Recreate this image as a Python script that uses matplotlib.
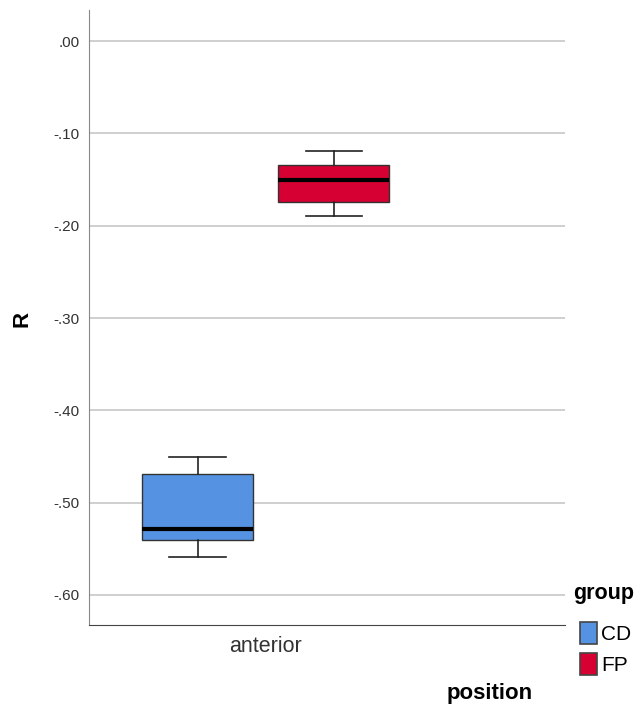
import matplotlib
matplotlib.use("Agg")
import matplotlib.pyplot as plt
from matplotlib.patches import Patch

plt.rcParams['font.family'] = ['Liberation Sans', 'DejaVu Sans']

# data
groups = ["CD", "FP"]
category = "anterior"
whislo = [-0.559, -0.190]
q1 = [-0.540, -0.174]
med = [-0.529, -0.150]
q3 = [-0.469, -0.134]
whishi = [-0.450, -0.119]
colors = ["#5592E2", "#D60032"]
yticks = [0.0, -0.1, -0.2, -0.3, -0.4, -0.5, -0.6]
ytick_labels = [".00", "-.10", "-.20", "-.30", "-.40", "-.50", "-.60"]

fig = plt.figure(figsize=(6.38, 7.08), dpi=100)
ax = fig.add_axes([89/638, 83/708, (565-89)/638, (625-10)/708])

offsets = [-0.387, 0.384]
stats = []
for i in range(2):
    stats.append(dict(whislo=whislo[i], q1=q1[i], med=med[i], q3=q3[i], whishi=whishi[i], fliers=[]))
bp = ax.bxp(stats, positions=offsets, widths=0.627, patch_artist=True, showfliers=False,
            manage_ticks=False,
            boxprops=dict(edgecolor="#333333", linewidth=1.0),
            medianprops=dict(color="black", linewidth=3),
            whiskerprops=dict(color="#222222", linewidth=1.2),
            capprops=dict(color="#222222", linewidth=1.2),
            capwidths=0.32)
for patch, c in zip(bp['boxes'], colors):
    patch.set_facecolor(c)
    patch.set_zorder(3)
for k in ['medians', 'whiskers', 'caps']:
    for l in bp[k]:
        l.set_zorder(4)

ax.set_xlim(-1.0, 299/177)
ax.set_ylim(-0.6325, 0.0336)
ax.set_yticks(yticks)
ax.set_yticklabels(ytick_labels, fontsize=11, color="#333333")
ax.set_xticks([0])
ax.set_xticklabels([category], fontsize=15.5, color="#333333")
ax.tick_params(axis='y', length=0, pad=7)
ax.tick_params(axis='x', length=0, pad=8)
ax.yaxis.grid(True, color="#CCCCCC", linewidth=1.3, zorder=0)
ax.set_axisbelow(True)
for s in ['top', 'right']:
    ax.spines[s].set_visible(False)
ax.spines['left'].set_color("#888888")
ax.spines['bottom'].set_color("#444444")

fig.text(22/638, 1 - 319/708, "R", rotation=90, fontsize=16, fontweight='bold', ha='center', va='center')
fig.text(490/638, 1 - 693/708, "position", fontsize=16, fontweight='bold', ha='center', va='center')
fig.text(573/638, 1 - 593/708, "group", fontsize=15.5, fontweight='bold', ha='left', va='center')

handles = [Patch(facecolor=c, edgecolor="#444444", linewidth=1.2, label=g) for g, c in zip(groups, colors)]
leg = fig.legend(handles=handles, loc='upper left', bbox_to_anchor=(580/638, 1 - 622/708),
                 frameon=False, prop=dict(size=15),
                 handlelength=0.82, handleheight=1.25,
                 handletextpad=0.2, borderpad=0, borderaxespad=0, labelspacing=0.42)

fig.savefig("out.png", dpi=100)
